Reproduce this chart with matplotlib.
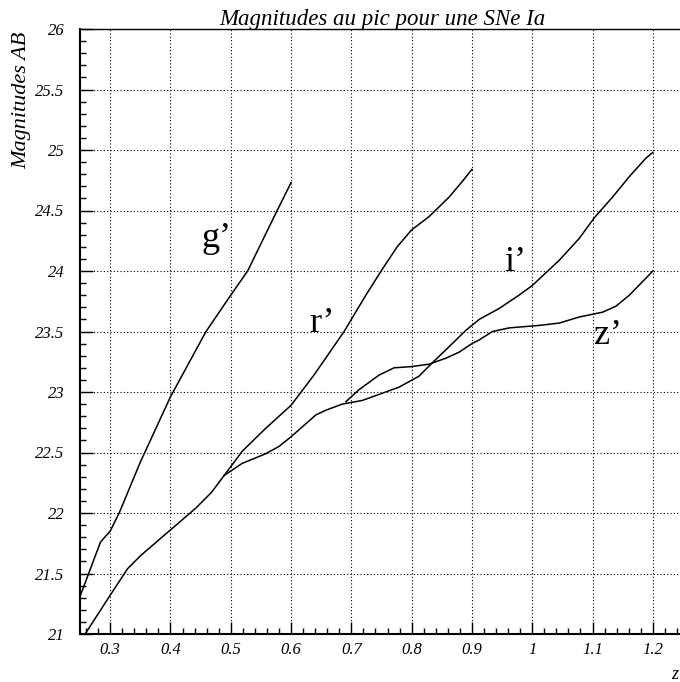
# peak AB magnitudes of a SN Ia vs redshift, in g' r' i' z'

import matplotlib
matplotlib.use('Agg')
import matplotlib.pyplot as plt
from matplotlib.ticker import MultipleLocator, FuncFormatter

plt.rcParams['font.family'] = 'Liberation Serif'

# data
z_g = [0.25, 0.284, 0.30, 0.315, 0.35, 0.40, 0.459, 0.50, 0.528, 0.577, 0.60]
mag_g = [21.31, 21.76, 21.85, 22.0, 22.42, 22.96, 23.5, 23.80, 24.0, 24.5, 24.73]

z_r = [0.2585, 0.30, 0.329, 0.351, 0.40, 0.442, 0.468, 0.489, 0.519, 0.558, 0.60,
       0.638, 0.663, 0.688, 0.724, 0.752, 0.776, 0.80, 0.829, 0.862, 0.884, 0.90]
mag_r = [21.0, 21.32, 21.54, 21.65, 21.86, 22.04, 22.17, 22.31, 22.51, 22.70, 22.89,
         23.14, 23.32, 23.5, 23.80, 24.02, 24.20, 24.34, 24.45, 24.61, 24.74, 24.84]

z_i = [0.489, 0.519, 0.558, 0.58, 0.60, 0.641, 0.658, 0.685, 0.718, 0.746, 0.779,
       0.812, 0.834, 0.857, 0.89, 0.912, 0.945, 0.978, 1.0, 1.045, 1.078, 1.103,
       1.133, 1.161, 1.188, 1.20]
mag_i = [22.31, 22.41, 22.49, 22.55, 22.63, 22.81, 22.85, 22.90, 22.93, 22.98, 23.04,
         23.13, 23.24, 23.35, 23.51, 23.60, 23.69, 23.80, 23.88, 24.09, 24.27, 24.44,
         24.61, 24.78, 24.93, 24.98]

z_z = [0.691, 0.713, 0.746, 0.771, 0.80, 0.829, 0.857, 0.879, 0.90, 0.912, 0.934,
       0.962, 1.011, 1.045, 1.078, 1.117, 1.139, 1.161, 1.20]
mag_z = [22.92, 23.02, 23.14, 23.20, 23.21, 23.23, 23.28, 23.33, 23.40, 23.43, 23.5,
         23.53, 23.55, 23.57, 23.62, 23.66, 23.71, 23.80, 24.0]

band_names = ['g\u2019', 'r\u2019', 'i\u2019', 'z\u2019']
band_pos = [(0.451, 24.2), (0.63, 23.5), (0.953, 24.0), (1.103, 23.4)]

fig = plt.figure(figsize=(6.8, 6.82), dpi=100)
ax = fig.add_axes([80/680, 48/682, 603/680, 605/682])

for zz, mm in [(z_g, mag_g), (z_r, mag_r), (z_i, mag_i), (z_z, mag_z)]:
    ax.plot(zz, mm, color='black', linewidth=1.1)

for name, (x, y) in zip(band_names, band_pos):
    ax.text(x, y, name, fontsize=26, ha='left', va='baseline')

ax.set_xlim(0.25, 1.25)
ax.set_ylim(21, 26)
ax.xaxis.set_major_locator(MultipleLocator(0.1))
ax.xaxis.set_minor_locator(MultipleLocator(0.02))
ax.yaxis.set_major_locator(MultipleLocator(0.5))
ax.yaxis.set_minor_locator(MultipleLocator(0.1))
ax.xaxis.set_major_formatter(FuncFormatter(lambda v, p: '%g' % round(v, 2)))
ax.yaxis.set_major_formatter(FuncFormatter(lambda v, p: '%g' % round(v, 2)))

ax.tick_params(which='major', direction='in', length=9, width=1, labelsize=12, pad=6)
ax.tick_params(which='minor', direction='in', length=4.5, width=1)
ax.tick_params(axis='y', which='major', pad=11)
for lab in ax.get_xticklabels() + ax.get_yticklabels():
    lab.set_fontstyle('italic')

ax.grid(which='major', color='black', linestyle=(0, (1, 2)), linewidth=0.8)
for s in ['left', 'bottom']:
    ax.spines[s].set_linewidth(1.5)
ax.spines['top'].set_linewidth(1.0)

fig.text(382/680, 1 - 25/682, 'Magnitudes au pic pour une SNe Ia', fontsize=16.5,
         style='italic', ha='center', va='baseline')
fig.text(22/680, 1 - 100/682, 'Magnitudes AB', fontsize=16, style='italic',
         rotation=90, ha='center', va='center')
fig.text(671/680, 1 - 679/682, 'z', fontsize=13, style='italic', ha='left', va='baseline')

plt.savefig('out.png', dpi=100)
